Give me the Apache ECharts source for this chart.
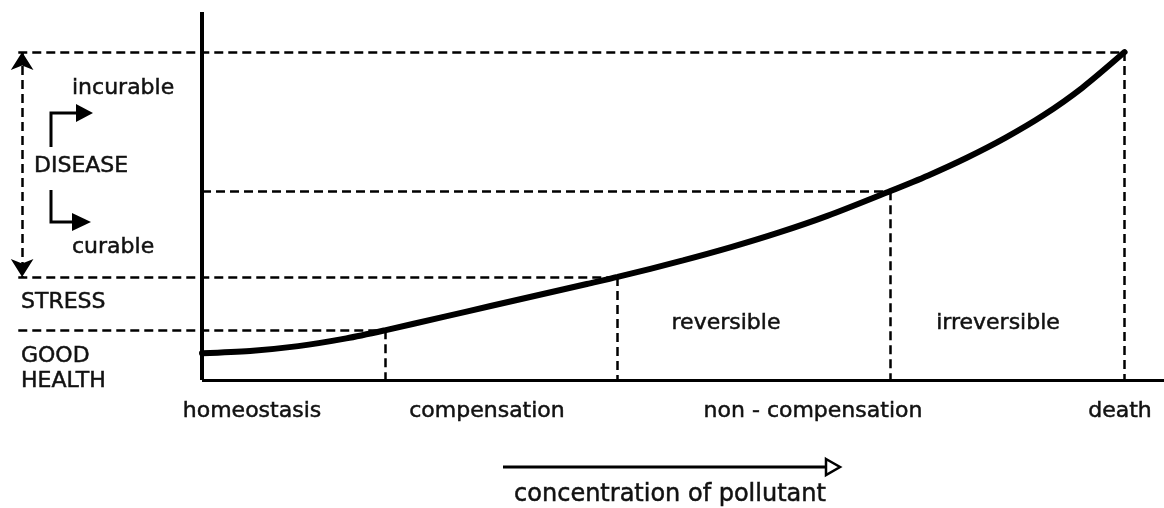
<!DOCTYPE html>
<html>
<head>
<meta charset="utf-8">
<script src="https://cdn.jsdelivr.net/npm/echarts@6/dist/echarts.min.js"></script>
<style>
  html, body { margin: 0; padding: 0; background: #fff; }
  #chart { width: 1164px; height: 508px; }
</style>
</head>
<body>
<div id="chart"></div>
<script>
// effect of the pollutant (x: concentration 0..100, y: effect 0..100)
const curveX = [0, 5, 10, 15, 19, 25, 30, 35, 40, 43.2, 50, 55, 60, 65, 71.5, 75.5, 79.5, 83.5, 87.5, 91.5, 95.9]
const curveY = [7.3, 7.9, 9.2, 11.3, 13.5, 17.1, 20.1, 23.1, 26.1, 28.0, 32.5, 36.1, 40.1, 44.6, 51.3, 55.6, 60.4, 65.8, 72.0, 79.4, 89.1]

// borders between the stages, where they meet the curve
const stageX = [19.0, 43.2, 71.5, 95.9]
const stageY = [13.5, 28.0, 51.3, 89.1]

// which of the stage borders are also health levels (drawn across to the left)
const healthLevel = [true, true, false, true]

const stageNames = ['homeostasis', 'compensation', 'non - compensation', 'death']
const zoneNames = ['reversible', 'irreversible']
const levelNames = ['GOOD', 'HEALTH', 'STRESS', 'DISEASE', 'incurable', 'curable']
const axisTitle = 'concentration of pollutant'

const FONT = 'DejaVu Sans, sans-serif'
const LEFT_X = -19.1 // left reach of the level lines
const ARROW_X = -18.7

const chart = echarts.init(document.getElementById('chart'))

const dash = { type: [9, 5], width: 2.5, color: '#000' }
const solid = (w) => ({ type: 'solid', width: w, color: '#000' })

const guides = []
stageX.forEach((x, i) => {
  // vertical drop to the x axis
  guides.push([{ coord: [x, stageY[i]], lineStyle: dash }, { coord: [x, 0] }])
  // horizontal line to the y axis (or further)
  guides.push([{ coord: [healthLevel[i] ? LEFT_X : 0, stageY[i]], lineStyle: dash }, { coord: [x, stageY[i]] }])
})
// the two axes
guides.push([{ coord: [0, 0], lineStyle: solid(4) }, { coord: [0, 100] }])
guides.push([{ coord: [0, 0], lineStyle: solid(3) }, { coord: [100, 0] }])
// DISEASE range arrow
guides.push([
  { coord: [ARROW_X, stageY[3]], lineStyle: dash, symbol: 'arrow', symbolSize: [17, 18] },
  { coord: [ARROW_X, stageY[1]], symbol: 'arrow', symbolSize: [17, 18] },
])

function txt(text, x, y, align, size) {
  return {
    type: 'text',
    style: {
      text, x, y,
      textAlign: align || 'left',
      textVerticalAlign: 'middle',
      fontFamily: FONT,
      fontSize: size || 22,
      fill: '#111',
      stroke: '#111',
      lineWidth: 0.5,
    },
  }
}

chart.setOption({
  animation: false,
  backgroundColor: '#fff',
  grid: { left: 0, right: 0, top: 12, bottom: 128 },
  xAxis: { type: 'value', min: -21, max: 100, show: false },
  yAxis: { type: 'value', min: 0, max: 100, show: false },
  series: [
    {
      name: 'guides',
      type: 'line',
      data: [],
      z: 2,
      markLine: {
        silent: true,
        symbol: ['none', 'none'],
        label: { show: false },
        animation: false,
        data: guides,
      },
    },
    {
      name: 'effect',
      type: 'line',
      data: curveX.map((x, i) => [x, curveY[i]]),
      smooth: 0.3,
      symbol: 'none',
      z: 3,
      lineStyle: { width: 6, color: '#000', cap: 'round' },
    },
  ],
  graphic: [
    txt(levelNames[4], 72, 88),
    txt(levelNames[3], 34, 166),
    txt(levelNames[5], 72, 247),
    txt(levelNames[2], 21, 302),
    txt(levelNames[0], 21, 356),
    txt(levelNames[1], 21, 381),
    txt(zoneNames[0], 726, 323, 'center'),
    txt(zoneNames[1], 998, 323, 'center'),
    txt(stageNames[0], 252, 411, 'center'),
    txt(stageNames[1], 487, 411, 'center'),
    txt(stageNames[2], 813, 411, 'center'),
    txt(stageNames[3], 1120, 411, 'center'),
    txt(axisTitle, 670, 495, 'center', 24),
    // bent arrows beside DISEASE
    { type: 'polyline', shape: { points: [[51, 147], [51, 113], [78, 113]] }, style: { stroke: '#000', lineWidth: 3, fill: null } },
    { type: 'polygon', shape: { points: [[76, 104], [93, 113], [76, 122]] }, style: { fill: '#000' } },
    { type: 'polyline', shape: { points: [[51, 190], [51, 222], [74, 222]] }, style: { stroke: '#000', lineWidth: 3, fill: null } },
    { type: 'polygon', shape: { points: [[72, 213], [91, 222], [72, 231]] }, style: { fill: '#000' } },
    // concentration arrow
    { type: 'line', shape: { x1: 503, y1: 467, x2: 828, y2: 467 }, style: { stroke: '#000', lineWidth: 3 } },
    { type: 'polygon', shape: { points: [[826, 459], [840, 467], [826, 475]] }, style: { fill: '#fff', stroke: '#000', lineWidth: 2.5 } },
  ],
})
</script>
</body>
</html>
